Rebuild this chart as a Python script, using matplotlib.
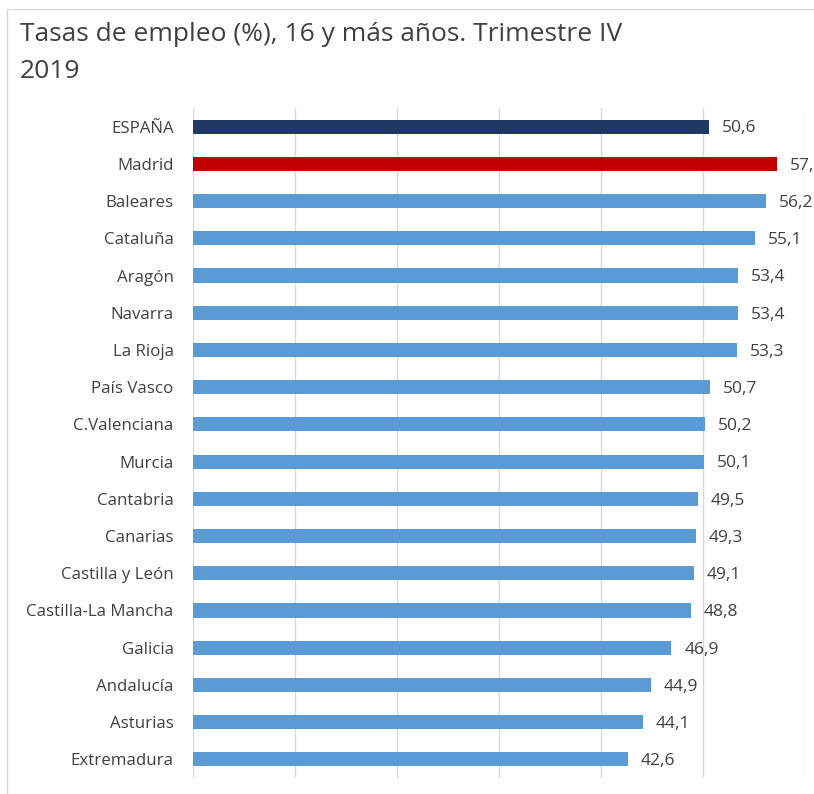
import matplotlib
matplotlib.use("Agg")
import matplotlib.pyplot as plt
from matplotlib.patches import Rectangle

regions = ["ESPAÑA", "Madrid", "Baleares", "Cataluña", "Aragón", "Navarra", "La Rioja",
           "País Vasco", "C.Valenciana", "Murcia", "Cantabria", "Canarias",
           "Castilla y León", "Castilla-La Mancha", "Galicia", "Andalucía",
           "Asturias", "Extremadura"]
rates = [50.6, 57.3, 56.2, 55.1, 53.4, 53.4, 53.3, 50.7, 50.2, 50.1, 49.5, 49.3,
         49.1, 48.8, 46.9, 44.9, 44.1, 42.6]
colors = ["#1F3864", "#C00000"] + ["#5B9BD5"] * 16

plt.rcParams['font.family'] = ['Open Sans', 'DejaVu Sans']

fig = plt.figure(figsize=(8.14, 7.94), dpi=100)
W, H = 814, 794
ax = fig.add_axes([193 / W, 1 - 778 / H, (805 - 193) / W, (778 - 108) / H])

ypos = list(range(len(regions)))
ax.barh(ypos, rates, height=0.38, color=colors, zorder=3)
for y, v in zip(ypos, rates):
    ax.text(v + 1.25, y + 0.05, f"{v:.1f}".replace(".", ","), va="center", ha="left",
            fontsize=12.5, color="#404040", clip_on=False)

ax.set_xlim(0, 60)
ax.set_ylim(len(regions) - 0.5, -0.5)
ax.set_xticks(range(0, 61, 10))
ax.set_xticklabels([])
ax.set_yticks(ypos)
ax.set_yticklabels(regions, fontsize=12.2, color="#404040")
ax.tick_params(length=0, pad=14)
ax.xaxis.grid(True, color="#D9D9D9", linewidth=1, zorder=0)
for s in ax.spines.values():
    s.set_visible(False)

fig.text(20 / W, 1 - 53 / H, "Tasas de empleo (%), 16 y más años. Trimestre IV\n2019",
         fontsize=19, color="#404040", va="center", ha="left", linespacing=1.6)

fig.patches.append(Rectangle((7 / W, -0.1), 1.2, 1 - 9 / H + 0.1, transform=fig.transFigure,
                             fill=False, edgecolor="#D9D9D9", linewidth=1))

fig.savefig("out.png", dpi=100)
